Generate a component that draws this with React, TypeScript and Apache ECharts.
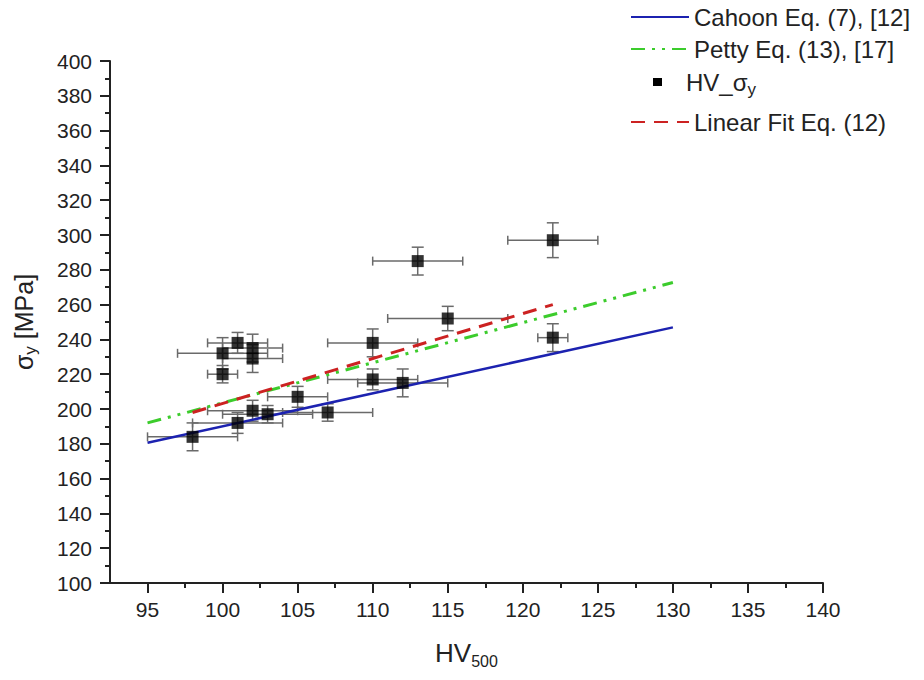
import React, { useEffect, useRef } from 'react';
import * as echarts from 'echarts';

// Experimental data: HV500 vs yield strength with error bars
const hv = [98, 101, 102, 103, 105, 107, 110, 112, 110, 113, 115, 122, 122, 100, 101, 102, 102, 100];
const hvErr = [3, 3, 3, 3, 2, 3, 3, 3, 3, 3, 4, 3, 1, 3, 2, 2, 2, 1];
const sigmaY = [184, 192, 199, 197, 207, 198, 217, 215, 238, 285, 252, 297, 241, 232, 238, 235, 229, 220];
const sigmaErr = [8, 6, 6, 5, 6, 5, 6, 8, 8, 8, 7, 10, 8, 9, 6, 8, 8, 5];

// Model lines
const cahoonX = [95, 130];
const cahoonY = [180.6, 246.9];
const pettyX = [95, 130];
const pettyY = [192, 272.7];
const fitX = [98, 122];
const fitY = [198, 260];

// Axis ticks
const xMajorTicks = [95, 100, 105, 110, 115, 120, 125, 130, 135, 140];
const xMinorTicks = [97.5, 102.5, 107.5, 112.5, 117.5, 122.5, 127.5, 132.5, 137.5];

const NAMES = {
  cahoon: 'Cahoon Eq. (7), [12]',
  petty: 'Petty Eq. (13), [17]',
  hv: 'HV_σy',
  fit: 'Linear Fit Eq. (12)',
};

const FONT = '"Liberation Sans", Arial, Helvetica, sans-serif';

export default function App() {
  const ref = useRef<HTMLDivElement>(null);

  useEffect(() => {
    if (!ref.current) return;
    const chart = echarts.init(ref.current, null, { renderer: 'svg' });

    const pts = hv.map((x, i) => [x, sigmaY[i]]);
    const errData = hv.map((x, i) => [x, sigmaY[i], hvErr[i], sigmaErr[i]]);

    const legendText = {
      fontSize: 24,
      fontFamily: FONT,
      color: '#222',
      lineHeight: 26,
      rich: {
        a: { fontSize: 24, fontFamily: FONT, color: '#222' },
        b: { fontSize: 17, fontFamily: FONT, color: '#222', padding: [14, 0, 0, 0] },
      },
    };

    const mkLegend = (name: string, top: number, extra: any = {}) => ({
      data: [name],
      left: 630,
      top,
      orient: 'vertical',
      padding: 0,
      itemWidth: 58,
      itemHeight: 14,
      textStyle: legendText,
      selectedMode: false,
      itemStyle: { opacity: 0 },
      ...extra,
    });

    const option: any = {
      animation: false,
      backgroundColor: '#fff',
      grid: { left: 110, top: 61, width: 713, height: 522, containLabel: false },
      legend: [
        mkLegend(NAMES.cahoon, 4),
        mkLegend(NAMES.petty, 36),
        mkLegend(NAMES.hv, 69, {
          left: 623,
          itemHeight: 9,
          icon: 'path://M0,0M58,9M30,0.5h9v8h-9z',
          itemStyle: { color: '#000', opacity: 1 },
          formatter: () => '{a|HV_σ}{b|y}',
        }),
        mkLegend(NAMES.fit, 109),
      ],
      xAxis: [
        {
          type: 'value',
          min: 92.5,
          max: 140,
          name: '{a|HV}{b|500}',
          nameLocation: 'middle',
          nameGap: 54,
          nameTextStyle: {
            rich: {
              a: { fontSize: 26, fontFamily: FONT, color: '#222' },
              b: { fontSize: 16, fontFamily: FONT, color: '#222', padding: [16, 0, 0, 0] },
            },
          },
          axisLine: { show: true, lineStyle: { color: '#222', width: 2 } },
          axisTick: { show: true, customValues: xMajorTicks, length: 10, lineStyle: { color: '#222', width: 2 } },
          axisLabel: {
            customValues: xMajorTicks,
            fontSize: 21,
            fontFamily: FONT,
            color: '#222',
            margin: 16,
          },
          splitLine: { show: false },
        },
        {
          type: 'value',
          min: 92.5,
          max: 140,
          position: 'bottom',
          axisLine: { show: false },
          axisTick: { show: true, customValues: xMinorTicks, length: 5, lineStyle: { color: '#222', width: 2 } },
          axisLabel: { show: false },
          splitLine: { show: false },
        },
      ],
      yAxis: {
        type: 'value',
        min: 100,
        max: 400,
        interval: 20,
        name: '{s|σ}{sub|y} [MPa]',
        nameLocation: 'middle',
        nameGap: 71,
        nameTextStyle: {
          fontSize: 25,
          fontFamily: FONT,
          color: '#222',
          rich: {
            s: { fontSize: 25, fontFamily: FONT, color: '#222' },
            sub: { fontSize: 17, fontFamily: FONT, color: '#222', padding: [14, 0, 0, 0] },
          },
        },
        axisLine: { show: true, lineStyle: { color: '#222', width: 2 } },
        axisTick: { show: true, length: 10, lineStyle: { color: '#222', width: 2 } },
        minorTick: { show: true, splitNumber: 2, length: 5, lineStyle: { color: '#222', width: 2 } },
        axisLabel: { fontSize: 21, fontFamily: FONT, color: '#222', margin: 18 },
        splitLine: { show: false },
        minorSplitLine: { show: false },
      },
      series: [
        {
          name: NAMES.cahoon,
          type: 'line',
          data: cahoonX.map((x, i) => [x, cahoonY[i]]),
          symbol: 'none',
          lineStyle: { color: '#1c22b0', width: 2.5, type: 'solid' },
          itemStyle: { color: '#1c22b0' },
          z: 4,
        },
        {
          name: NAMES.petty,
          type: 'line',
          data: pettyX.map((x, i) => [x, pettyY[i]]),
          symbol: 'none',
          lineStyle: { color: '#3ccc2c', width: 3, type: [14, 7, 3, 7, 3, 7] },
          itemStyle: { color: '#3ccc2c' },
          z: 4,
        },
        {
          name: 'errors',
          type: 'custom',
          data: errData,
          encode: { x: 0, y: 1 },
          clip: false,
          z: 2,
          renderItem: (params: any, api: any) => {
            const x = api.value(0);
            const y = api.value(1);
            const xe = api.value(2);
            const ye = api.value(3);
            const l = api.coord([x - xe, y]);
            const r = api.coord([x + xe, y]);
            const t = api.coord([x, y + ye]);
            const b = api.coord([x, y - ye]);
            const st = { stroke: '#6a6a6a', lineWidth: 1.5 };
            const hc = 4.5;
            const vc = 6;
            return {
              type: 'group',
              children: [
                { type: 'line', shape: { x1: l[0], y1: l[1], x2: r[0], y2: r[1] }, style: st },
                { type: 'line', shape: { x1: l[0], y1: l[1] - hc, x2: l[0], y2: l[1] + hc }, style: st },
                { type: 'line', shape: { x1: r[0], y1: r[1] - hc, x2: r[0], y2: r[1] + hc }, style: st },
                { type: 'line', shape: { x1: t[0], y1: t[1], x2: b[0], y2: b[1] }, style: st },
                { type: 'line', shape: { x1: t[0] - vc, y1: t[1], x2: t[0] + vc, y2: t[1] }, style: st },
                { type: 'line', shape: { x1: b[0] - vc, y1: b[1], x2: b[0] + vc, y2: b[1] }, style: st },
              ],
            };
          },
        },
        {
          name: NAMES.hv,
          type: 'scatter',
          data: pts,
          symbol: 'rect',
          symbolSize: 12,
          itemStyle: { color: '#000' },
          z: 5,
        },
        {
          name: NAMES.fit,
          type: 'line',
          data: fitX.map((x, i) => [x, fitY[i]]),
          symbol: 'none',
          lineStyle: { color: '#cc2222', width: 3, type: [14, 9] },
          itemStyle: { color: '#cc2222' },
          z: 4,
        },
      ],
    };

    chart.setOption(option);
    return () => chart.dispose();
  }, []);

  return (
    <div
      ref={ref}
      style={{ position: 'fixed', left: 0, top: 0, width: 924, height: 680 }}
    />
  );
}
